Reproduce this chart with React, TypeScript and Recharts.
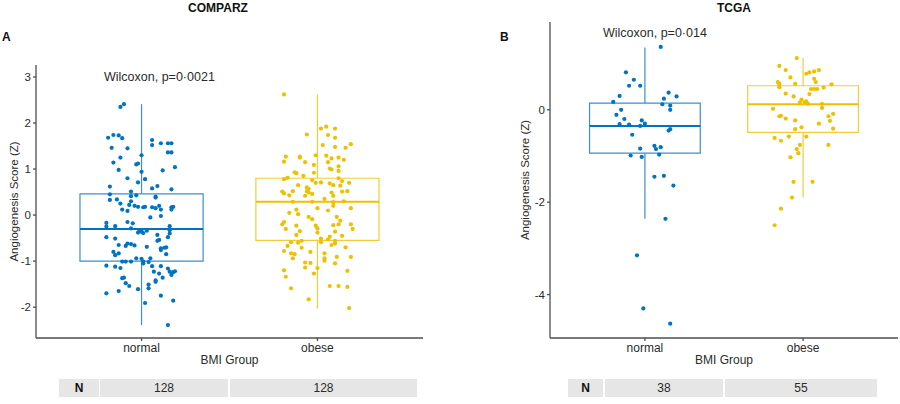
import { ReferenceArea, ReferenceLine, Scatter, ScatterChart, XAxis, YAxis } from "recharts";

// categories
const groups = ["normal", "obese"];

// jittered points: [x offset from group centre, score]
const comparzNormal: [number, number][] = [
  [-0.12, 2.35], [-0.1, 2.41], [-0.19, 1.68], [-0.16, 1.74], [-0.13, 1.73], [-0.11, 1.67],
  [-0.17, 1.46], [-0.08, 1.45], [-0.12, 1.25], [-0.16, 1.14], [-0.13, 0.98], [0.06, 1.63],
  [0.06, 1.52], [0.11, 1.56], [0.15, 1.56], [0.17, 1.56], [0.15, 1.36], [0.17, 1.36],
  [0.0, 1.3], [-0.02, 1.12], [-0.03, 1.1], [0.19, 1.04], [0.12, 0.97], [0.0, 0.94],
  [-0.08, 0.8], [0.02, 0.78], [-0.02, 0.71], [-0.18, 0.62], [0.09, 0.63], [0.06, 0.58],
  [0.17, 0.56], [-0.18, 0.45], [-0.06, 0.51], [-0.03, 0.43], [-0.06, 0.41], [-0.18, 0.33],
  [0.08, 0.4], [-0.14, 0.34], [-0.12, 0.25], [-0.06, 0.3], [-0.11, 0.12], [-0.08, 0.09],
  [-0.04, 0.2], [-0.02, 0.18], [0.01, 0.17], [0.02, 0.18], [0.08, 0.38], [0.06, 0.17],
  [0.08, 0.15], [0.1, 0.2], [0.11, 0.12], [0.17, 0.17], [0.18, 0.18], [0.17, 0.12],
  [0.05, -0.05], [0.11, -0.02], [-0.2, -0.17], [-0.2, -0.25], [-0.15, -0.24], [-0.08, -0.15],
  [-0.05, -0.18], [-0.06, -0.29], [-0.01, -0.33], [0.0, -0.36], [-0.02, -0.38], [0.01, -0.39],
  [0.03, -0.34], [0.16, -0.24], [0.16, -0.33], [0.16, -0.4], [0.09, -0.43], [-0.2, -0.48],
  [-0.15, -0.51], [0.15, -0.48], [0.1, -0.54], [-0.13, -0.65], [-0.09, -0.67], [-0.06, -0.63],
  [-0.04, -0.66], [0.03, -0.69], [0.11, -0.72], [0.13, -0.71], [-0.16, -0.8], [-0.15, -0.87],
  [-0.13, -0.83], [-0.08, -0.62], [0.09, -0.56], [0.11, -0.76], [0.14, -0.7], [0.14, -0.85],
  [-0.11, -1.01], [-0.09, -1.01], [-0.06, -1.01], [-0.03, -0.94], [0.0, -0.95], [0.01, -1.01],
  [0.04, -1.02], [0.05, -0.94], [0.01, -1.05], [-0.2, -1.1], [-0.15, -1.12], [-0.12, -1.15],
  [0.07, -1.23], [0.1, -1.27], [0.06, -1.11], [0.11, -1.11], [0.15, -1.16], [0.16, -1.23],
  [0.18, -1.24], [0.19, -1.22], [0.17, -1.3], [-0.11, -1.37], [-0.1, -1.36], [0.08, -1.42],
  [0.08, -1.45], [0.12, -1.36], [-0.09, -1.48], [-0.07, -1.54], [0.04, -1.51], [0.04, -1.59],
  [-0.02, -1.61], [-0.13, -1.65], [-0.2, -1.7], [0.11, -1.75], [0.18, -1.86], [0.02, -1.91],
  [0.15, -2.39], [-0.07, 0.22],
];

const comparzObese: [number, number][] = [
  [-0.19, 2.62], [0.02, 1.88], [0.05, 1.92], [0.1, 1.88], [-0.06, 1.75], [0.06, 1.74],
  [0.1, 1.68], [0.03, 1.52], [0.1, 1.48], [0.16, 1.46], [0.19, 1.54], [-0.18, 1.27],
  [-0.1, 1.27], [-0.1, 1.25], [-0.19, 1.16], [-0.07, 1.15], [-0.01, 1.3], [0.05, 1.29],
  [0.08, 1.23], [0.12, 1.25], [-0.02, 1.09], [0.06, 1.15], [0.07, 1.01], [0.08, 0.99],
  [0.12, 1.06], [-0.13, 0.93], [-0.12, 0.91], [-0.02, 0.92], [0.12, 0.96], [-0.17, 0.81],
  [-0.19, 0.78], [0.12, 0.8], [-0.11, 0.65], [-0.03, 0.76], [-0.01, 0.7], [0.02, 0.71],
  [0.07, 0.69], [0.09, 0.65], [0.14, 0.74], [0.18, 0.7], [0.13, 0.64], [-0.05, 0.57],
  [-0.06, 0.52], [-0.05, 0.49], [-0.2, 0.51], [-0.19, 0.47], [-0.14, 0.52], [-0.16, 0.43],
  [-0.03, 0.46], [-0.07, 0.42], [0.08, 0.49], [0.09, 0.42], [0.14, 0.51], [0.17, 0.52],
  [-0.14, 0.29], [-0.03, 0.29], [0.09, 0.28], [0.09, 0.2], [0.0, 0.15], [-0.12, 0.12],
  [-0.11, 0.02], [-0.05, -0.04], [-0.03, -0.09], [0.19, 0.15], [0.11, -0.04], [0.13, -0.12],
  [0.12, -0.2], [0.09, -0.22], [0.19, -0.2], [0.2, -0.3], [-0.19, -0.15], [-0.2, -0.2],
  [-0.18, -0.3], [-0.12, -0.23], [-0.01, -0.23], [0.0, -0.29], [0.0, -0.38], [0.1, -0.36],
  [-0.12, -0.43], [0.02, -0.51], [0.02, -0.59], [0.07, -0.47], [0.06, -0.53], [0.1, -0.56],
  [0.1, -0.62], [0.08, -0.65], [-0.09, -0.56], [-0.11, -0.6], [-0.15, -0.59], [-0.17, -0.67],
  [-0.09, -0.71], [-0.19, -0.78], [-0.15, -0.83], [-0.13, -0.85], [-0.14, -0.94], [0.04, -0.83],
  [0.04, -0.94], [0.04, -0.99], [0.11, -0.91], [0.1, -1.05], [0.19, -0.91], [-0.07, -1.03],
  [-0.04, -1.04], [-0.07, -1.14], [-0.02, -1.27], [-0.19, -1.2], [-0.18, -1.34], [0.17, -1.21],
  [-0.15, -1.59], [0.07, -1.54], [0.12, -1.54], [0.17, -1.56], [-0.05, -1.83], [0.18, -2.02],
  [0.15, 1.2], [-0.08, 0.85], [0.04, 0.35], [-0.16, 0.05], [0.14, -0.45], [-0.04, -0.8],
  [0.06, 0.1], [-0.1, -0.35], [0.15, 0.3], [-0.06, 0.6], [0.0, -1.15], [0.16, -0.7],
];

const tcgaNormal: [number, number][] = [
  [0.1, 1.36], [-0.12, 0.81], [-0.07, 0.65], [-0.1, 0.52], [-0.03, 0.52], [0.15, 0.37],
  [0.2, 0.29], [0.12, 0.24], [-0.16, 0.3], [-0.2, 0.17], [0.11, 0.12], [0.16, 0.09],
  [0.16, 0.0], [-0.15, 0.0], [-0.18, -0.11], [-0.13, -0.2], [-0.02, -0.23], [-0.16, -0.31],
  [-0.1, -0.32], [-0.03, -0.35], [0.15, -0.45], [0.16, -0.42], [-0.08, -0.54], [-0.03, -0.84],
  [0.06, -0.78], [0.07, -0.85], [0.1, -0.81], [-0.09, -0.99], [-0.02, -1.02], [0.09, -0.97],
  [0.06, -1.45], [0.12, -1.43], [0.18, -1.64], [0.13, -2.36], [-0.05, -3.15], [-0.01, -4.3],
  [0.16, -4.63], [0.0, -0.3],
];

const tcgaObese: [number, number][] = [
  [-0.04, 1.12], [-0.15, 0.95], [-0.11, 0.86], [0.02, 0.78], [0.04, 0.81], [0.07, 0.83],
  [0.1, 0.86], [0.07, 0.67], [0.08, 0.6], [-0.16, 0.6], [-0.15, 0.56], [-0.15, 0.49],
  [-0.05, 0.56], [0.18, 0.55], [0.05, 0.45], [0.07, 0.45], [0.09, 0.45], [0.13, 0.48],
  [-0.11, 0.35], [-0.06, 0.29], [0.04, 0.34], [-0.01, 0.22], [0.01, 0.16], [-0.02, 0.16],
  [0.02, 0.18], [0.12, 0.13], [0.12, 0.04], [-0.19, 0.02], [-0.15, -0.14], [-0.14, -0.13],
  [-0.11, -0.19], [-0.05, -0.23], [0.16, -0.14], [0.19, -0.09], [0.17, -0.24], [0.19, -0.41],
  [-0.05, -0.42], [-0.01, -0.38], [-0.18, -0.61], [-0.14, -0.67], [-0.09, -0.58], [0.02, -0.58],
  [-0.02, -0.76], [-0.04, -0.85], [-0.03, -0.94], [0.16, -0.76], [-0.08, -1.03], [-0.06, -1.56],
  [0.06, -1.56], [-0.07, -1.9], [-0.14, -2.14], [-0.18, -2.5], [0.03, 0.13], [-0.08, 0.7],
  [0.1, -0.3],
];

// box statistics: [lower whisker, Q1, median, Q3, upper whisker]
const comparzBoxNormal = [-2.39, -1.0, -0.3, 0.46, 2.41];
const comparzBoxObese = [-2.03, -0.55, 0.29, 0.8, 2.62];
const tcgaBoxNormal = [-2.36, -0.94, -0.35, 0.145, 1.35];
const tcgaBoxObese = [-1.9, -0.49, 0.12, 0.52, 1.12];

const comparzTicks = [-2, -1, 0, 1, 2, 3];
const tcgaTicks = [-4, -2, 0];
const comparzN = [128, 128];
const tcgaN = [38, 55];

const BLUE = "#0073C2";
const BLUE_BOX = "#3d8fcf";
const YELLOW = "#EFC000";
const YELLOW_BOX = "#f2cb3a";
const FONT = "'Liberation Sans', Arial, sans-serif";
const TEXT = "#2b2b2b";

const toPoints = (pts: [number, number][], pos: number) => pts.map(([dx, y]) => ({ x: pos + dx, y }));

const dot = (color: string) => (props: any) => <circle cx={props.cx} cy={props.cy} r={2.1} fill={color} />;

const renderBox = (pos: number, s: number[], color: string, median: string, key: string) => [
  <ReferenceArea
    key={`${key}-box`}
    x1={pos - 0.35}
    x2={pos + 0.35}
    y1={s[1]}
    y2={s[3]}
    fill="none"
    stroke={color}
    strokeWidth={1.2}
  />,
  <ReferenceLine key={`${key}-up`} segment={[{ x: pos, y: s[3] }, { x: pos, y: s[4] }]} stroke={color} strokeWidth={1.2} />,
  <ReferenceLine key={`${key}-lo`} segment={[{ x: pos, y: s[0] }, { x: pos, y: s[1] }]} stroke={color} strokeWidth={1.2} />,
  <ReferenceLine
    key={`${key}-med`}
    segment={[{ x: pos - 0.35, y: s[2] }, { x: pos + 0.35, y: s[2] }]}
    stroke={median}
    strokeWidth={2}
  />,
];

type PanelProps = {
  left: number;
  margin: { top: number; right: number; bottom: number; left: number };
  yWidth: number;
  yDomain: [number, number];
  yTicks: number[];
  labelX: number;
  normal: [number, number][];
  obese: [number, number][];
  boxNormal: number[];
  boxObese: number[];
};

function Panel({ left, margin, yWidth, yDomain, yTicks, labelX, normal, obese, boxNormal, boxObese }: PanelProps) {
  return (
    <div style={{ position: "absolute", left, top: 0 }}>
      <ScatterChart width={450} height={404} margin={margin}>
        <XAxis
          type="number"
          dataKey="x"
          domain={[0.4, 2.6]}
          ticks={[1, 2]}
          tickFormatter={(v) => groups[Number(v) - 1] ?? ""}
          height={30}
          stroke="#4d4d4d"
          strokeWidth={1.3}
          tickSize={3}
          tickMargin={2}
          tick={{ fill: TEXT, fontSize: 12, fontFamily: FONT }}
          label={{ value: "BMI Group", position: "insideBottom", offset: 4, fill: TEXT, fontSize: 12, fontFamily: FONT }}
          allowDataOverflow
        />
        <YAxis
          type="number"
          dataKey="y"
          domain={yDomain}
          ticks={yTicks}
          width={yWidth}
          stroke="#4d4d4d"
          strokeWidth={1.3}
          tickSize={3}
          tickMargin={2}
          tick={{ fill: TEXT, fontSize: 11.5, fontFamily: FONT }}
          allowDataOverflow
          label={{
            content: ({ viewBox }: any) => {
              const cy = viewBox.y + viewBox.height / 2;
              return (
                <text
                  x={labelX}
                  y={cy}
                  transform={`rotate(-90, ${labelX}, ${cy})`}
                  textAnchor="middle"
                  dominantBaseline="central"
                  fill={TEXT}
                  fontSize={11.5}
                  fontFamily={FONT}
                >
                  Angiogenesis Score (Z)
                </text>
              );
            },
          }}
        />
        {renderBox(1, boxNormal, BLUE_BOX, BLUE, "n")}
        {renderBox(2, boxObese, YELLOW_BOX, YELLOW, "o")}
        <Scatter data={toPoints(normal, 1)} fill={BLUE} shape={dot(BLUE)} isAnimationActive={false} />
        <Scatter data={toPoints(obese, 2)} fill={YELLOW} shape={dot(YELLOW)} isAnimationActive={false} />
      </ScatterChart>
    </div>
  );
}

const abs = (left: number, top: number, extra: any = {}) => ({
  position: "absolute" as const,
  left,
  top,
  fontFamily: FONT,
  color: TEXT,
  whiteSpace: "nowrap" as const,
  ...extra,
});

function NTable({ cells, counts }: { cells: [number, number][]; counts: number[] }) {
  const labels = ["N", ...counts.map(String)];
  return (
    <>
      {cells.map(([x1, x2], i) => (
        <div
          key={i}
          style={abs(x1, 379, {
            width: x2 - x1,
            height: 18,
            lineHeight: "18px",
            background: "#e6e6e6",
            textAlign: "center",
            fontSize: 12,
            fontWeight: i === 0 ? 700 : 400,
            color: i === 0 ? "#111" : TEXT,
          })}
        >
          {labels[i]}
        </div>
      ))}
    </>
  );
}

export default function App() {
  return (
    <div style={{ position: "absolute", left: 0, top: 0, width: 900, height: 404, background: "#fff", overflow: "hidden" }}>
      <Panel
        left={0}
        margin={{ top: 65, right: 27, bottom: 36, left: 0 }}
        yWidth={36}
        yDomain={[-2.67, 3.26]}
        yTicks={comparzTicks}
        labelX={14}
        normal={comparzNormal}
        obese={comparzObese}
        boxNormal={comparzBoxNormal}
        boxObese={comparzBoxObese}
      />
      <Panel
        left={450}
        margin={{ top: 22, right: 2, bottom: 36, left: 60 }}
        yWidth={40}
        yDomain={[-4.94, 1.9]}
        yTicks={tcgaTicks}
        labelX={75}
        normal={tcgaNormal}
        obese={tcgaObese}
        boxNormal={tcgaBoxNormal}
        boxObese={tcgaBoxObese}
      />

      <div style={abs(168, 1, { width: 100, textAlign: "center", fontSize: 12, fontWeight: 700, color: "#111" })}>COMPARZ</div>
      <div style={abs(684, 1, { width: 100, textAlign: "center", fontSize: 12, fontWeight: 700, color: "#111" })}>TCGA</div>
      <div style={abs(2, 30, { fontSize: 12, fontWeight: 700, color: "#111" })}>A</div>
      <div style={abs(500, 30, { fontSize: 12, fontWeight: 700, color: "#111" })}>B</div>
      <div style={abs(104, 70, { fontSize: 12.5 })}>Wilcoxon, p=0·0021</div>
      <div style={abs(603, 26, { fontSize: 12.5 })}>Wilcoxon, p=0·014</div>

      <NTable cells={[[59, 99], [100, 228], [230, 417]]} counts={comparzN} />
      <NTable cells={[[568, 603], [605, 723], [725, 877]]} counts={tcgaN} />
    </div>
  );
}
